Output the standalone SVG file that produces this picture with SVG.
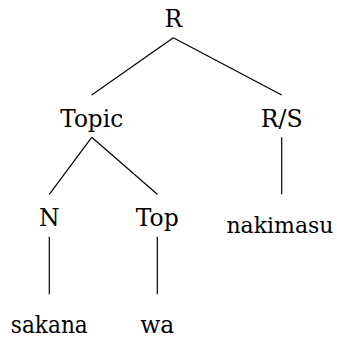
<svg xmlns="http://www.w3.org/2000/svg" width="337" height="341" viewBox="0 0 337 341">
<style>
text{font-family:'DejaVu Serif','Liberation Serif','Times New Roman',serif;font-size:23.5px;fill:#000;text-anchor:middle}
.e line{stroke:#000;stroke-width:1.2;fill:none}
</style>
<rect width="337" height="341" fill="#fff"/>
<g class="e" id="edges">
<line x1="173.3" y1="37.7" x2="91.7" y2="95"/>
<line x1="173.3" y1="37.7" x2="281.7" y2="95"/>
<line x1="91.7" y1="137.3" x2="49.3" y2="194.3"/>
<line x1="91.7" y1="137.3" x2="157.3" y2="194.3"/>
<line x1="281.7" y1="137.3" x2="281.7" y2="194.3"/>
<line x1="49.3" y1="236.7" x2="49.3" y2="294.3"/>
<line x1="157.3" y1="236.7" x2="157.3" y2="294.3"/>
</g>
<g id="R"><text x="173.3" y="26.7">R</text></g>
<g id="Topic"><text x="91.7" y="126.7" textLength="63" lengthAdjust="spacingAndGlyphs">Topic</text></g>
<g id="RS"><text x="281.7" y="126.7">R/S</text></g>
<g id="N"><text x="49.3" y="226">N</text></g>
<g id="Top"><text x="157.3" y="226">Top</text></g>
<g id="nakimasu"><text x="280" y="233.3" style="font-size:22px">nakimasu</text></g>
<g id="sakana"><text x="49.3" y="333.3" textLength="77" lengthAdjust="spacingAndGlyphs">sakana</text></g>
<g id="wa"><text x="157.3" y="333.3">wa</text></g>
</svg>
